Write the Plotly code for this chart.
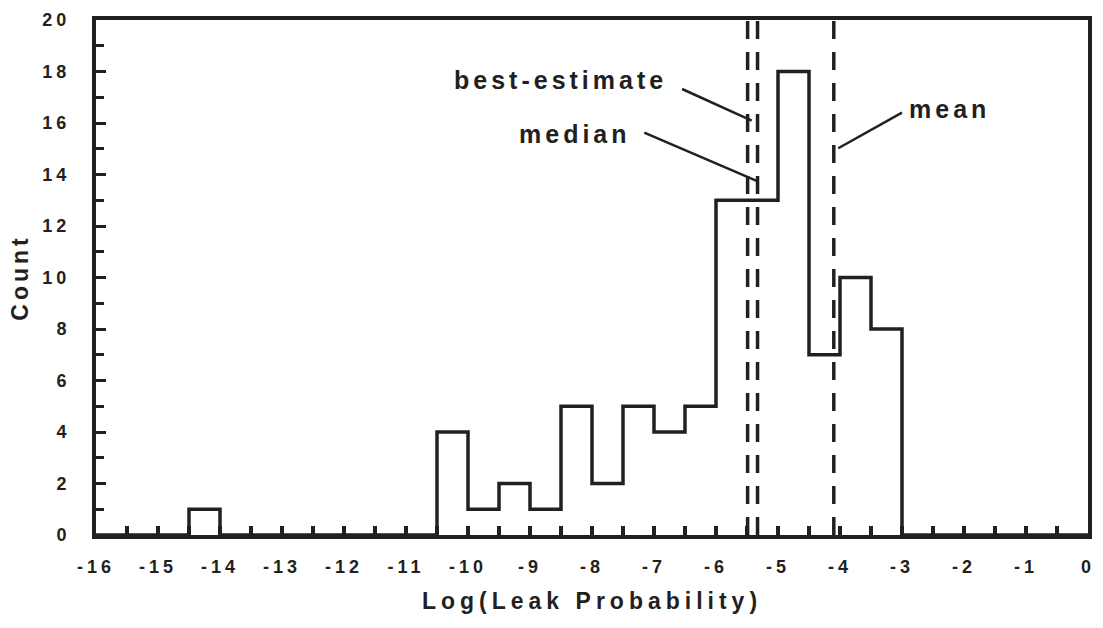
import plotly.graph_objects as go

# Histogram of log10 leak probability, bins of width 0.5 from -16 to 0
bin_lower = [-16.0, -15.5, -15.0, -14.5, -14.0, -13.5, -13.0, -12.5,
             -12.0, -11.5, -11.0, -10.5, -10.0, -9.5, -9.0, -8.5,
             -8.0, -7.5, -7.0, -6.5, -6.0, -5.5, -5.0, -4.5,
             -4.0, -3.5, -3.0, -2.5, -2.0, -1.5, -1.0, -0.5]
bin_width = 0.5
counts = [0, 0, 0, 1, 0, 0, 0, 0,
          0, 0, 0, 4, 1, 2, 1, 5,
          2, 5, 4, 5, 13, 13, 18, 7,
          10, 8, 0, 0, 0, 0, 0, 0]

# x tick positions and their labels (plain hyphen minus)
x_tickvals = [-16, -15, -14, -13, -12, -11, -10, -9, -8, -7, -6, -5, -4, -3, -2, -1, 0]
x_ticktext = ["-16", "-15", "-14", "-13", "-12", "-11", "-10", "-9", "-8",
              "-7", "-6", "-5", "-4", "-3", "-2", "-1", "0"]

# Summary statistics (log10 scale)
stat_names = ["best-estimate", "median", "mean"]
stat_values = [-5.49, -5.33, -4.10]

INK = "#231f20"
FONT = "Liberation Sans, Arial, sans-serif"

# step outline: each point starts a bin, final point closes the last bin
step_x = bin_lower + [bin_lower[-1] + bin_width]
step_y = counts + [0]

fig = go.Figure()
fig.add_trace(go.Scatter(
    x=step_x, y=step_y, mode="lines",
    line=dict(color=INK, width=3.5, shape="hv"),
    hoverinfo="skip", showlegend=False,
))

# vertical dashed markers for the statistics
for v in stat_values:
    fig.add_shape(type="line", xref="x", yref="y", x0=v, x1=v, y0=0, y1=20,
                  line=dict(color=INK, width=3.5, dash="18px,13px"), layer="above")

# labels with leader lines
label_pos = {
    "best-estimate": dict(x=-8.513, y=17.66, lx=(-6.547, -5.424), ly=(17.32, 16.09)),
    "median": dict(x=-8.273, y=15.59, lx=(-7.157, -5.344), ly=(15.63, 13.75)),
    "mean": dict(x=-2.23, y=16.55, lx=(-3.0, -4.028), ly=(16.40, 15.02)),
}
for name in stat_names:
    p = label_pos[name]
    fig.add_annotation(x=p["x"], y=p["y"], xref="x", yref="y", text=name,
                       showarrow=False, xanchor="center", yanchor="middle",
                       font=dict(family=FONT, size=25, color=INK, weight="bold"))
    fig.add_shape(type="line", xref="x", yref="y",
                  x0=p["lx"][0], x1=p["lx"][1], y0=p["ly"][0], y1=p["ly"][1],
                  line=dict(color=INK, width=2.5), layer="above")

fig.update_layout(
    width=1103, height=628,
    margin=dict(l=96, r=10, t=13, b=93),
    paper_bgcolor="white", plot_bgcolor="white",
    font=dict(family=FONT, color=INK, weight="bold"),
    showlegend=False,
)

fig.update_xaxes(
    range=[-16, 0], tickmode="array", tickvals=x_tickvals, ticktext=x_ticktext,
    ticks="inside", ticklen=9, tickwidth=3.5, tickcolor=INK,
    minor=dict(ticks="inside", tickmode="linear", dtick=0.5, tick0=-16,
               ticklen=9, tickwidth=3.5, tickcolor=INK),
    showline=True, linewidth=4, linecolor=INK, mirror=True,
    showgrid=False, zeroline=False, layer="above traces",
    tickfont=dict(family=FONT, size=18, color=INK, weight="bold"),
    ticklabelstandoff=12,
    title=dict(text="Log(Leak Probability)", standoff=18,
               font=dict(family=FONT, size=23, color=INK, weight="bold")),
)
fig.update_yaxes(
    range=[0, 20], tickmode="linear", tick0=0, dtick=2,
    ticks="inside", ticklen=10, tickwidth=3, tickcolor=INK,
    minor=dict(ticks="inside", dtick=1, ticklen=8, tickwidth=3, tickcolor=INK),
    showline=True, linewidth=4, linecolor=INK, mirror=True,
    showgrid=False, zeroline=False, layer="above traces",
    tickfont=dict(family=FONT, size=18, color=INK, weight="bold"),
    ticklabelstandoff=18,
    title=dict(text="Count", standoff=16,
               font=dict(family=FONT, size=23, color=INK, weight="bold")),
)

# widen the letter spacing of all text, as in the typeset original
spacing_js = """
var gd = document.getElementById('{plot_id}');
function spread(sel, px) {
  gd.querySelectorAll(sel).forEach(function(t) { t.style.letterSpacing = px + 'px'; });
}
spread('g.xtick text', 4);
spread('g.ytick text', 4);
spread('text.xtitle', 5);
spread('text.ytitle', 4);
spread('text.annotation-text', 4);
"""

fig.write_html("out.html", post_script=spacing_js)
